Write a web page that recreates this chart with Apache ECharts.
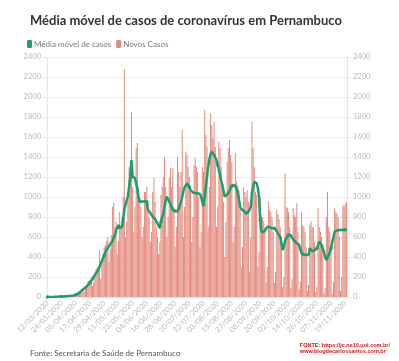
<!DOCTYPE html>
<html><head><meta charset="utf-8">
<script src="https://cdn.jsdelivr.net/npm/echarts@6/dist/echarts.min.js"></script>
<style>html,body{margin:0;padding:0;background:#fff}#c{width:399px;height:361px}</style>
</head><body><div id="c"></div>
<script>
// Start date of series: 12/03/2020, one point per day
const startDate = [2020, 2, 12];
const dayCount = 254;
const categories = [];
for (let i = 0; i < dayCount; i++) {
  const d = new Date(Date.UTC(startDate[0], startDate[1], startDate[2] + i));
  const dd = String(d.getUTCDate()).padStart(2, '0');
  const mm = String(d.getUTCMonth() + 1).padStart(2, '0');
  categories.push(dd + '/' + mm + '/' + d.getUTCFullYear());
}
const yTicks = [0, 200, 400, 600, 800, 1000, 1200, 1400, 1600, 1800, 2000, 2200, 2400];

const novosCasos = [
  2,0,3,2,1,4,6,
  3,5,4,3,5,8,6,
  10,8,12,6,9,14,18,
  15,20,25,18,30,40,55,
  60,70,90,50,80,110,150,
  160,170,200,110,150,230,280,
  300,310,470,180,320,420,500,
  520,560,600,350,480,620,900,
  940,700,750,420,560,850,720,
  800,1000,2280,600,750,1050,1300,
  1200,1850,1100,650,900,1490,1540,
  1100,1000,900,600,700,1050,1050,
  1100,950,800,550,650,1050,1190,
  950,700,600,430,550,1020,1100,
  1200,1400,1100,600,800,1190,1290,
  1100,1287,900,500,700,1400,1253,
  1100,1250,1670,600,900,1453,1420,
  1300,1200,1100,550,800,1320,1387,
  1303,1250,1000,500,650,1300,1250,
  1870,1620,1500,700,1100,1837,1720,
  1587,1753,1500,700,900,1553,1487,
  1300,1100,950,400,750,1350,1487,
  1570,1420,1353,550,700,1437,1153,
  1120,1070,900,300,500,1100,1050,
  1000,1070,950,250,600,1753,1487,
  1300,1053,1020,300,450,1000,820,
  800,760,700,150,300,953,870,
  850,800,650,140,250,870,830,
  780,700,600,100,200,1237,900,
  887,850,700,90,180,887,820,
  800,937,650,80,150,853,720,
  700,650,500,60,120,720,753,
  700,700,550,50,100,887,700,
  650,600,500,40,90,800,1053,
  700,650,500,30,150,887,853,
  837,800,600,60,200,920,900,
  930,953
];

const mediaMovel = [
  0,0,0,1,1,2,2,
  2,3,3,4,4,5,6,
  6,7,8,9,10,11,12,
  14,16,18,22,28,36,46,
  55,65,75,85,95,105,118,
  130,145,160,180,200,220,240,
  255,270,300,330,360,390,420,
  450,470,490,510,530,540,560,
  590,620,660,700,710,690,670,
  700,780,870,920,970,1003,1100,
  1203,1370,1203,1195,1190,1190,1080,
  1000,953,950,955,960,955,950,
  953,870,850,840,820,803,800,
  780,760,737,710,687,750,800,
  837,900,960,1003,990,953,930,
  900,870,865,860,853,855,880,
  920,953,1000,1060,1100,1120,1137,
  1130,1100,1070,1053,1045,1040,1040,
  1038,1037,1037,1030,1000,950,920,
  1000,1103,1200,1303,1380,1430,1453,
  1445,1420,1400,1370,1320,1270,1220,
  1160,1120,1060,1003,1010,1025,1037,
  1060,1090,1110,1120,1115,1110,1103,
  1050,980,903,880,870,860,853,
  840,837,850,870,900,1037,1100,
  1153,1145,1137,1090,1003,770,653,
  653,650,655,680,703,720,700,
  690,687,690,687,680,660,637,
  620,600,537,470,500,560,587,
  600,620,637,620,590,570,560,
  545,537,530,520,520,437,430,
  425,420,420,420,420,487,470,
  460,453,465,480,487,520,553,
  540,520,503,450,400,370,387,
  420,450,487,550,600,653,660,
  665,665,670,670,672,670,670,
  672,675
];

const green = '#19a06e';
const red = '#de7666';
const chart = echarts.init(document.getElementById('c'));
const axisLabel = { color: '#b8b8b8', fontSize: 7.5, fontFamily: 'Lato' };
chart.setOption({
  animation: false,
  title: [
    { text: 'Média móvel de casos de coronavírus em Pernambuco', left: 25, top: 9,
      textStyle: { fontFamily: 'Lato', fontWeight: 'bold', fontSize: 13, color: '#333' } },
    { text: 'Fonte: Secretaria de Saúde de Pernambuco', left: 25, top: 344,
      textStyle: { fontFamily: 'Lato', fontWeight: 'normal', fontSize: 8, color: '#555' } }
  ],
  graphic: [
    { type: 'text', right: 9, top: 342,
      style: { text: 'FONTE: https://jc.ne10.uol.com.br/\nwww.blogdecarlossantos.com.br',
        fill: '#e01010', font: 'bold 5.5px "Liberation Sans"', align: 'right', lineHeight: 6.5 } }
  ],
  legend: {
    left: 22, top: 35, itemWidth: 5, itemHeight: 8, itemGap: 5,
    icon: 'roundRect',
    textStyle: { fontFamily: 'Lato', fontSize: 8, color: '#777', padding: [0, 0, 0, -3] },
    data: ['Média móvel de casos', 'Novos Casos']
  },
  grid: { left: 47, right: 52, top: 57, bottom: 64 },
  xAxis: {
    type: 'category', data: categories, boundaryGap: true,
    axisLine: { lineStyle: { color: '#e6e6e6' } },
    axisTick: { show: false },
    axisLabel: Object.assign({}, axisLabel, { interval: 11, rotate: 45, margin: 5 })
  },
  yAxis: [
    { type: 'value', min: yTicks[0], max: yTicks[yTicks.length - 1], interval: 200,
      axisLine: { show: true, lineStyle: { color: '#e6e6e6' } },
      axisTick: { show: true, length: 4, lineStyle: { color: '#e6e6e6' } },
      axisLabel: Object.assign({}, axisLabel, { margin: 6, formatter: v => String(v) }),
      splitLine: { lineStyle: { color: '#efefef' } } },
    { type: 'value', min: yTicks[0], max: yTicks[yTicks.length - 1], interval: 200, position: 'right',
      axisLine: { show: true, lineStyle: { color: '#e6e6e6' } },
      axisTick: { show: true, length: 4, lineStyle: { color: '#e6e6e6' } },
      axisLabel: Object.assign({}, axisLabel, { margin: 6, formatter: v => String(v) }),
      splitLine: { show: false } }
  ],
  series: [
    { name: 'Média móvel de casos', type: 'line', data: mediaMovel, z: 3,
      itemStyle: { color: green }, lineStyle: { color: green, width: 2.5 },
      symbol: 'circle', symbolSize: 3.5, showSymbol: true },
    { name: 'Novos Casos', type: 'bar', data: novosCasos, z: 2, barCategoryGap: '20%',
      itemStyle: { color: red, opacity: 0.85 } }
  ]
});
</script></body></html>
